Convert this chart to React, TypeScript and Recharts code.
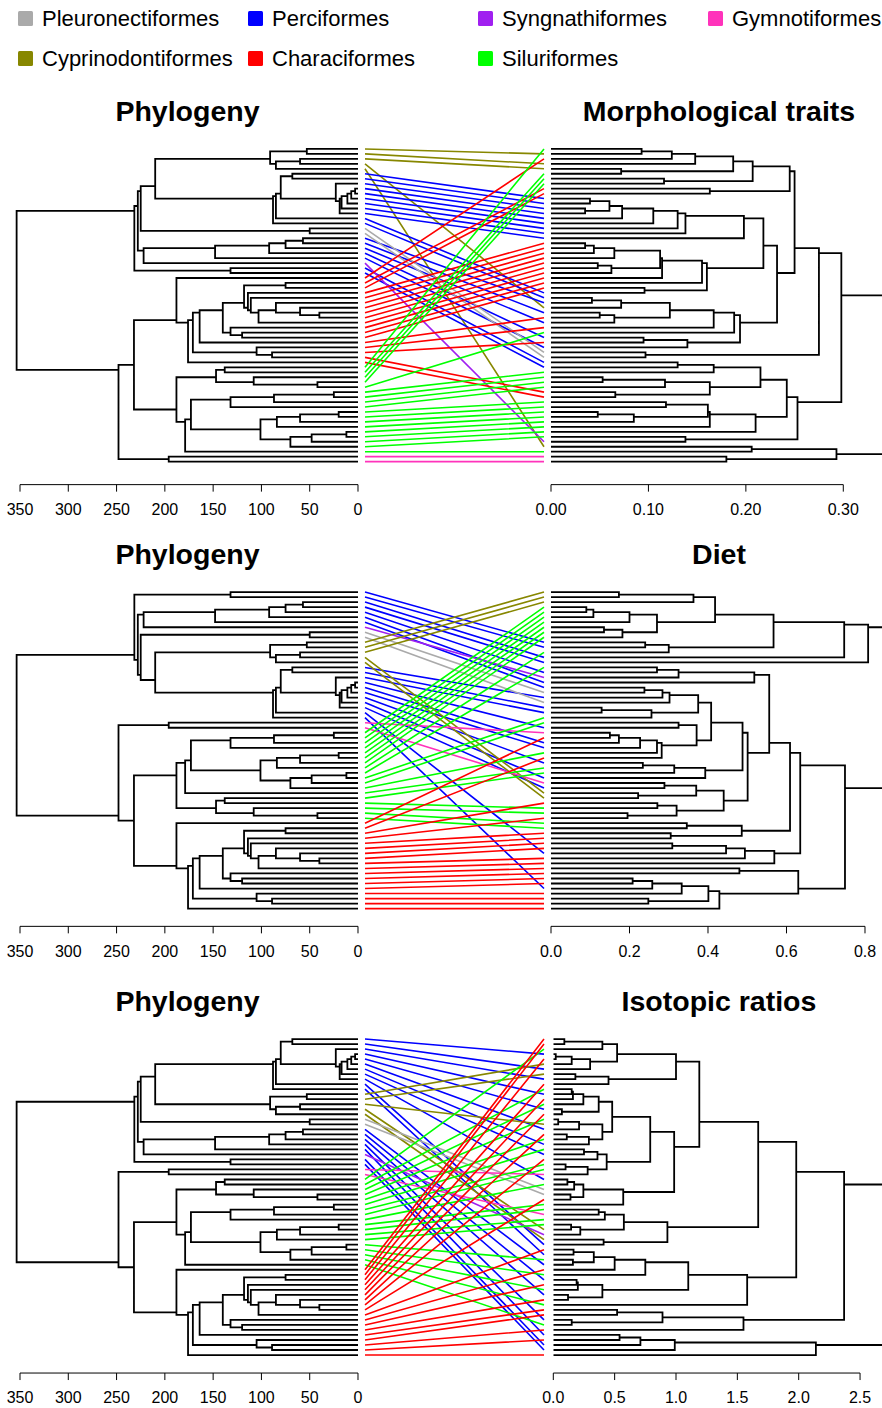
import React from 'react';
import { ComposedChart, Line, XAxis, YAxis, ReferenceLine } from 'recharts';

type Cluster = [number, number, number];
type Pt = { x: number; y: number | null };

const FONT = '"Liberation Sans", Arial, Helvetica, sans-serif';

// ---------- DATA ----------
const orderCodes = ['Y', 'B', 'P', 'K', 'O', 'R', 'G'];
const orderNames = ['Pleuronectiformes', 'Perciformes', 'Syngnathiformes', 'Gymnotiformes', 'Cyprinodontiformes', 'Characiformes', 'Siluriformes'];
const orderColors = ['#aaaaaa', '#0000ff', '#a020f0', '#ff33bb', '#878700', '#ff0000', '#00ff00'];

// phylogeny (time, Ma); tips listed in panel-1 order
const phyloTipOrders = 'OOOOOBBBBBBBBBBBYYBBBBBPBBRRRRRRRRRRRRRRRRRRGGGGGGGGGGGGGGGGGGKK'.split('');
const phyloClusters: Cluster[] = [
  [0, 1, 53], [2, 3, 60], [2, 4, 85], [0, 4, 91],
  [5, 6, 68], [8, 9, 3], [8, 10, 7], [8, 11, 11], [8, 12, 17], [8, 13, 19], [7, 13, 23], [5, 13, 80], [5, 14, 85], [5, 15, 88],
  [0, 15, 210], [16, 17, 50], [0, 17, 225],
  [18, 19, 57], [18, 20, 75], [18, 21, 92], [18, 22, 148], [18, 23, 222], [0, 23, 228],
  [24, 25, 132], [0, 25, 231.6],
  [33, 34, 40], [32, 34, 60], [31, 34, 85], [31, 35, 103], [30, 35, 111], [29, 35, 114], [27, 28, 75], [27, 35, 118],
  [37, 38, 120], [36, 38, 132], [27, 38, 140], [27, 39, 164], [41, 42, 89], [40, 42, 105], [27, 42, 171], [27, 43, 176],
  [26, 43, 188],
  [44, 45, 138], [47, 48, 42], [46, 48, 108], [44, 48, 147],
  [49, 50, 25], [49, 51, 87], [49, 52, 132], [53, 54, 20], [53, 55, 60], [53, 56, 84],
  [57, 58, 12], [57, 59, 48], [57, 60, 70], [53, 60, 101], [49, 60, 173], [49, 61, 179], [44, 61, 188],
  [26, 61, 232], [62, 63, 196], [26, 63, 248],
  [0, 63, 353.5],
];
const phyloSwapsByPanel: [number, number][][] = [
  [],
  [[0, 25], [0, 23], [0, 17], [26, 63], [26, 61], [44, 61]],
  [[0, 15], [26, 63], [26, 61]],
];
const phyloTicks = [350, 300, 250, 200, 150, 100, 50, 0];

// morphological traits dendrogram
const morphTipOrders = ('GOROOGGGRR' + 'BBBBBBBBB' + 'RRRRRRRRRR' + 'BBBOBRBRGBRB' + 'YYBB' + 'GGGG' + 'RR' + 'GGGGGGGG' + 'POGKK').split('');
const morphClusters: Cluster[] = [
  [0, 1, 0.093], [0, 2, 0.124], [0, 3, 0.148], [4, 5, 0.072], [0, 5, 0.187], [6, 7, 0.116], [0, 7, 0.207], [8, 9, 0.163], [0, 9, 0.245],
  [10, 11, 0.04], [12, 13, 0.035], [10, 13, 0.06], [10, 14, 0.073], [10, 15, 0.105], [10, 16, 0.13], [10, 17, 0.138], [10, 18, 0.198],
  [19, 20, 0.035], [19, 21, 0.044], [19, 22, 0.065], [23, 24, 0.048], [23, 25, 0.062], [19, 25, 0.112], [19, 26, 0.114], [19, 27, 0.155],
  [28, 29, 0.096], [19, 29, 0.16], [10, 29, 0.218],
  [30, 31, 0.042], [30, 32, 0.072], [33, 34, 0.05], [33, 35, 0.065], [30, 35, 0.122], [30, 36, 0.167], [30, 37, 0.188],
  [38, 39, 0.095], [38, 40, 0.14], [30, 40, 0.194],
  [10, 40, 0.232], [0, 40, 0.25], [41, 42, 0.097], [0, 42, 0.275],
  [43, 44, 0.13], [43, 45, 0.167], [46, 47, 0.053], [46, 48, 0.117], [49, 50, 0.066], [46, 50, 0.163], [43, 50, 0.215],
  [51, 52, 0.118], [53, 54, 0.048], [53, 55, 0.085], [51, 55, 0.161], [51, 56, 0.163], [51, 57, 0.21], [43, 57, 0.242],
  [58, 59, 0.138], [43, 59, 0.253],
  [0, 59, 0.298], [60, 61, 0.206], [62, 63, 0.18], [60, 63, 0.293], [0, 63, 0.36],
];
const morphTicks = [0, 0.1, 0.2, 0.3];

// diet dendrogram
const dietTipOrders = ('OOO' + 'GGGGGGG' + 'BBGBBGBPBBYBYBBGGBKRBBGRBGGBKBOORGGRGG' + 'RRRR' + 'B' + 'RRRRRR' + 'B' + 'RRRR').split('');
const dietClusters: Cluster[] = [
  [0, 1, 0.173], [0, 2, 0.363], [3, 4, 0.09], [3, 5, 0.108], [3, 6, 0.2], [7, 8, 0.135], [7, 9, 0.182], [3, 9, 0.27], [0, 9, 0.418],
  [10, 11, 0.24], [10, 12, 0.3], [0, 12, 0.567], [0, 13, 0.747], [0, 14, 0.808],
  [15, 16, 0.27], [15, 17, 0.325], [15, 18, 0.518],
  [19, 20, 0.238], [19, 21, 0.284], [19, 22, 0.302], [23, 24, 0.129], [23, 25, 0.256], [19, 25, 0.375],
  [26, 27, 0.325], [28, 29, 0.15], [28, 30, 0.173], [28, 31, 0.227], [28, 32, 0.27], [28, 33, 0.282], [26, 33, 0.371], [19, 33, 0.408],
  [34, 35, 0.234], [34, 36, 0.314], [34, 37, 0.393], [19, 37, 0.488],
  [38, 39, 0.289], [40, 41, 0.222], [38, 41, 0.37], [42, 43, 0.271], [44, 45, 0.195], [42, 45, 0.32], [38, 45, 0.44], [19, 45, 0.501],
  [15, 45, 0.556],
  [46, 47, 0.346], [48, 49, 0.305], [46, 49, 0.486], [15, 49, 0.609],
  [50, 51, 0.309], [50, 52, 0.446], [50, 53, 0.494], [50, 54, 0.569], [15, 54, 0.635],
  [55, 56, 0.48], [57, 58, 0.208], [57, 59, 0.258], [57, 60, 0.333], [61, 62, 0.248], [57, 62, 0.401], [57, 63, 0.429], [55, 63, 0.63],
  [15, 63, 0.749], [0, 63, 0.9],
];
const dietTicks = [0, 0.2, 0.4, 0.6, 0.8];

// isotopic ratios dendrogram
const isoTipOrders = ('RRGBROBOBR' + 'GBRGBRGOBR' + 'GBGBRGGKBG' + 'YYRGGKGGOP' + 'OBRBGBRGBR' + 'GBRGRRBGRB' + 'RBBR').split('');
const isoClusters: Cluster[] = [
  [0, 1, 0.09], [0, 2, 0.4], [3, 4, 0.02], [3, 5, 0.15], [3, 6, 0.3], [0, 6, 0.52], [7, 8, 0.18], [7, 9, 0.45], [0, 9, 1.0],
  [10, 11, 0.15], [10, 12, 0.16], [10, 13, 0.245], [14, 15, 0.07], [10, 15, 0.37], [16, 17, 0.04], [16, 18, 0.21],
  [19, 20, 0.11], [19, 21, 0.29], [16, 21, 0.4], [10, 21, 0.48],
  [22, 23, 0.25], [22, 24, 0.36], [25, 26, 0.1], [25, 27, 0.28], [22, 27, 0.435], [10, 27, 0.79],
  [28, 29, 0.115], [28, 30, 0.17], [31, 32, 0.14], [28, 32, 0.245], [28, 33, 0.57], [10, 33, 0.985],
  [0, 33, 1.19],
  [34, 35, 0.37], [34, 36, 0.42], [37, 38, 0.145], [37, 39, 0.22], [34, 39, 0.575], [40, 41, 0.41], [34, 41, 0.93],
  [0, 41, 1.67],
  [42, 43, 0.165], [44, 45, 0.16], [42, 45, 0.33], [42, 46, 0.5], [42, 47, 0.75],
  [48, 49, 0.19], [48, 50, 0.2], [51, 52, 0.12], [48, 52, 0.4], [42, 52, 1.1], [42, 53, 1.58],
  [0, 53, 1.98],
  [54, 55, 0.52], [56, 57, 0.15], [54, 57, 0.89], [54, 58, 1.55], [0, 58, 2.37],
  [59, 60, 0.54], [59, 61, 0.71], [59, 62, 0.99], [59, 63, 2.14], [0, 63, 2.8],
];
const isoTicks = [0, 0.5, 1, 1.5, 2, 2.5];

const leftTitles = ['Phylogeny', 'Phylogeny', 'Phylogeny'];
const rightTitles = ['Morphological traits', 'Diet', 'Isotopic ratios'];

// ---------- LAYOUT (positions / sizes) ----------
const N = 64;
const panelGeom = [
  { tipTop: 149.3, tipBottom: 462, axisY: 485, titleBase: 121 },
  { tipTop: 591.7, tipBottom: 908.3, axisY: 926, titleBase: 564 },
  { tipTop: 1039, tipBottom: 1355, axisY: 1373, titleBase: 1011 },
];
const rightGeom = [
  { zeroX: 551, pxPerUnit: 974.3, digits: 2 },
  { zeroX: 551, pxPerUnit: 392.5, digits: 1 },
  { zeroX: 553.3, pxPerUnit: 122.7, digits: 1 },
];
const LEFT_ZERO_X = 358;
const LEFT_PX_PER_MA = (358 - 20) / 350;
const LEFT_MAX = 353.5;
const TANGLE_L = 365;
const TANGLE_R = 544;
const RIGHT_CHART_LEFT = 515;
const PAGE_W = 882;
const AXIS_H = 40;
const Y_PAD = 2;

// ---------- TREE HELPERS ----------
type TNode = { lo: number; hi: number; h: number; kids: TNode[]; tip: number; y: number; a: number; b: number };

function buildTree(n: number, clusters: Cluster[], swaps: [number, number][]): TNode {
  const owner: TNode[] = [];
  for (let i = 0; i < n; i++) owner.push({ lo: i, hi: i, h: 0, kids: [], tip: i, y: 0, a: 0, b: 0 });
  const sorted = clusters.slice().sort((a, b) => (a[1] - a[0]) - (b[1] - b[0]) || a[2] - b[2]);
  for (const [lo, hi, h] of sorted) {
    const kids: TNode[] = [];
    for (let i = lo; i <= hi; i++) if (!kids.includes(owner[i])) kids.push(owner[i]);
    if (swaps.some((s) => s[0] === lo && s[1] === hi)) kids.reverse();
    const node: TNode = { lo, hi, h, kids, tip: -1, y: 0, a: 0, b: 0 };
    for (let i = lo; i <= hi; i++) owner[i] = node;
  }
  return owner[0];
}

// node position = centre of its leaves (as in the reference plots)
function layoutTree(root: TNode): number[] {
  const order: number[] = [];
  const visit = (nd: TNode) => {
    if (nd.tip >= 0) {
      nd.y = order.length;
      nd.a = nd.y;
      nd.b = nd.y;
      order.push(nd.tip);
      return;
    }
    nd.kids.forEach(visit);
    nd.a = nd.kids[0].a;
    nd.b = nd.kids[nd.kids.length - 1].b;
    nd.y = (nd.a + nd.b) / 2;
  };
  visit(root);
  return order;
}

function treeLines(root: TNode): Pt[] {
  const pts: Pt[] = [];
  const walk = (nd: TNode) => {
    if (nd.tip >= 0) return;
    const a = nd.kids[0];
    const b = nd.kids[nd.kids.length - 1];
    pts.push({ x: a.h, y: a.y }, { x: nd.h, y: a.y }, { x: nd.h, y: b.y }, { x: b.h, y: b.y }, { x: nd.h, y: null });
    for (let k = 1; k < nd.kids.length - 1; k++) {
      const m = nd.kids[k];
      pts.push({ x: m.h, y: m.y }, { x: nd.h, y: m.y }, { x: nd.h, y: null });
    }
    nd.kids.forEach(walk);
  };
  walk(root);
  return pts;
}

function tangle(leftCodes: string[], rightCodes: string[]) {
  const byCode: Record<string, Pt[]> = {};
  const firstSeen: string[] = [];
  const used: Record<string, number> = {};
  leftCodes.forEach((c, i) => {
    const rank = used[c] || 0;
    used[c] = rank + 1;
    let count = -1;
    let j = -1;
    for (let k = 0; k < rightCodes.length; k++) {
      if (rightCodes[k] === c) {
        count++;
        if (count === rank) { j = k; break; }
      }
    }
    if (j < 0) return;
    if (!byCode[c]) { byCode[c] = []; firstSeen.push(c); }
    byCode[c].push({ x: 0, y: i }, { x: 1, y: j }, { x: 0, y: null });
  });
  return { byCode, firstSeen };
}

const colorOf = (code: string) => orderColors[orderCodes.indexOf(code)];

// ---------- COMPONENTS ----------
function Panel({ p }: { p: number }) {
  const g = panelGeom[p];
  const s = (g.tipBottom - g.tipTop) / (N - 1);
  const yMax = N - 1 + (g.axisY - g.tipBottom) / s;
  const yDomain: [number, number] = [-Y_PAD, yMax];
  const plotTop = g.tipTop - Y_PAD * s;
  const plotH = (yMax + Y_PAD) * s;

  const lRoot = buildTree(N, phyloClusters, phyloSwapsByPanel[p]);
  const lOrder = layoutTree(lRoot);
  const lLines = treeLines(lRoot);
  const leftCodes = lOrder.map((t) => phyloTipOrders[t]);

  const rClusters = [morphClusters, dietClusters, isoClusters][p];
  const rCodes = [morphTipOrders, dietTipOrders, isoTipOrders][p];
  const rTicks = [morphTicks, dietTicks, isoTicks][p];
  const rg = rightGeom[p];
  const rRoot = buildTree(N, rClusters, []);
  layoutTree(rRoot);
  const rLines = treeLines(rRoot);
  const rMax = (PAGE_W - rg.zeroX) / rg.pxPerUnit;

  const { byCode, firstSeen } = tangle(leftCodes, rCodes);

  const leftPlotLeft = LEFT_ZERO_X - LEFT_MAX * LEFT_PX_PER_MA;
  const leftChartW = 372;
  const tickStyle = { fontSize: 16, fill: '#000', fontFamily: FONT };

  const rightChartW = PAGE_W - RIGHT_CHART_LEFT;
  const tangleChartLeft = TANGLE_L - 8;
  const tangleChartW = TANGLE_R - tangleChartLeft + 8;

  const titleStyle: React.CSSProperties = {
    position: 'absolute',
    top: g.titleBase - 0.8465 * 28.5,
    width: 360,
    textAlign: 'center',
    fontSize: 28.5,
    fontWeight: 'bold',
    lineHeight: 1,
    fontFamily: FONT,
    color: '#000',
    whiteSpace: 'nowrap',
  };

  return (
    <>
      <div style={{ ...titleStyle, left: 187.5 - 180 }}>{leftTitles[p]}</div>
      <div style={{ ...titleStyle, left: 719 - 180 }}>{rightTitles[p]}</div>

      <div style={{ position: 'absolute', left: 0, top: plotTop }}>
        <ComposedChart width={leftChartW} height={plotH + AXIS_H}
          margin={{ top: 0, bottom: 0, left: leftPlotLeft, right: leftChartW - LEFT_ZERO_X }}>
          <XAxis type="number" dataKey="x" domain={[0, LEFT_MAX]} reversed ticks={phyloTicks} interval={0}
            axisLine={false} tickLine={{ stroke: '#000' }} tickSize={7} tickMargin={12} height={AXIS_H}
            tick={tickStyle} tickFormatter={(v: number) => String(v)} />
          <YAxis type="number" dataKey="y" domain={yDomain} reversed hide />
          <ReferenceLine ifOverflow="visible" stroke="#000" strokeWidth={1}
            segment={[{ x: phyloTicks[0], y: yMax }, { x: phyloTicks[phyloTicks.length - 1], y: yMax }]} />
          <Line data={lLines} dataKey="y" type="linear" stroke="#000" strokeWidth={1.8} dot={false}
            activeDot={false} isAnimationActive={false} connectNulls={false} />
        </ComposedChart>
      </div>

      <div style={{ position: 'absolute', left: tangleChartLeft, top: plotTop }}>
        <ComposedChart width={tangleChartW} height={plotH}
          margin={{ top: 0, bottom: 0, left: TANGLE_L - tangleChartLeft, right: tangleChartW - (TANGLE_R - tangleChartLeft) }}>
          <XAxis type="number" dataKey="x" domain={[0, 1]} hide />
          <YAxis type="number" dataKey="y" domain={yDomain} reversed hide />
          {firstSeen.map((c) => (
            <Line key={c} data={byCode[c]} dataKey="y" type="linear" stroke={colorOf(c)} strokeWidth={1.6}
              dot={false} activeDot={false} isAnimationActive={false} connectNulls={false} />
          ))}
        </ComposedChart>
      </div>

      <div style={{ position: 'absolute', left: RIGHT_CHART_LEFT, top: plotTop }}>
        <ComposedChart width={rightChartW} height={plotH + AXIS_H}
          margin={{ top: 0, bottom: 0, left: rg.zeroX - RIGHT_CHART_LEFT, right: 0 }}>
          <XAxis type="number" dataKey="x" domain={[0, rMax]} allowDataOverflow ticks={rTicks} interval={0}
            axisLine={false} tickLine={{ stroke: '#000' }} tickSize={7} tickMargin={12} height={AXIS_H}
            tick={tickStyle} tickFormatter={(v: number) => v.toFixed(rg.digits)} />
          <YAxis type="number" dataKey="y" domain={yDomain} reversed hide />
          <ReferenceLine ifOverflow="visible" stroke="#000" strokeWidth={1}
            segment={[{ x: rTicks[0], y: yMax }, { x: rTicks[rTicks.length - 1], y: yMax }]} />
          <Line data={rLines} dataKey="y" type="linear" stroke="#000" strokeWidth={1.8} dot={false}
            activeDot={false} isAnimationActive={false} connectNulls={false} />
        </ComposedChart>
      </div>
    </>
  );
}

const legendLayout = [
  { col: 0, row: 0 }, { col: 1, row: 0 }, { col: 2, row: 0 }, { col: 3, row: 0 },
  { col: 0, row: 1 }, { col: 1, row: 1 }, { col: 2, row: 1 },
];

function Legend() {
  return (
    <>
      {orderNames.map((name, i) => {
        const { col, row } = legendLayout[i];
        const x = 18 + col * 230;
        const base = 27 + row * 40;
        return (
          <React.Fragment key={name}>
            <div style={{
              position: 'absolute', left: x, top: base - 16, width: 15, height: 15,
              background: orderColors[i], borderRadius: 1.5,
            }} />
            <div style={{
              position: 'absolute', left: x + 24, top: base - 0.8465 * 22, fontSize: 22, lineHeight: 1,
              fontFamily: FONT, color: '#000', whiteSpace: 'nowrap',
            }}>{name}</div>
          </React.Fragment>
        );
      })}
    </>
  );
}

export default function App() {
  return (
    <div style={{ position: 'absolute', left: 0, top: 0, width: PAGE_W, height: 1408, background: '#fff', overflow: 'hidden' }}>
      <Legend />
      <Panel p={0} />
      <Panel p={1} />
      <Panel p={2} />
    </div>
  );
}
